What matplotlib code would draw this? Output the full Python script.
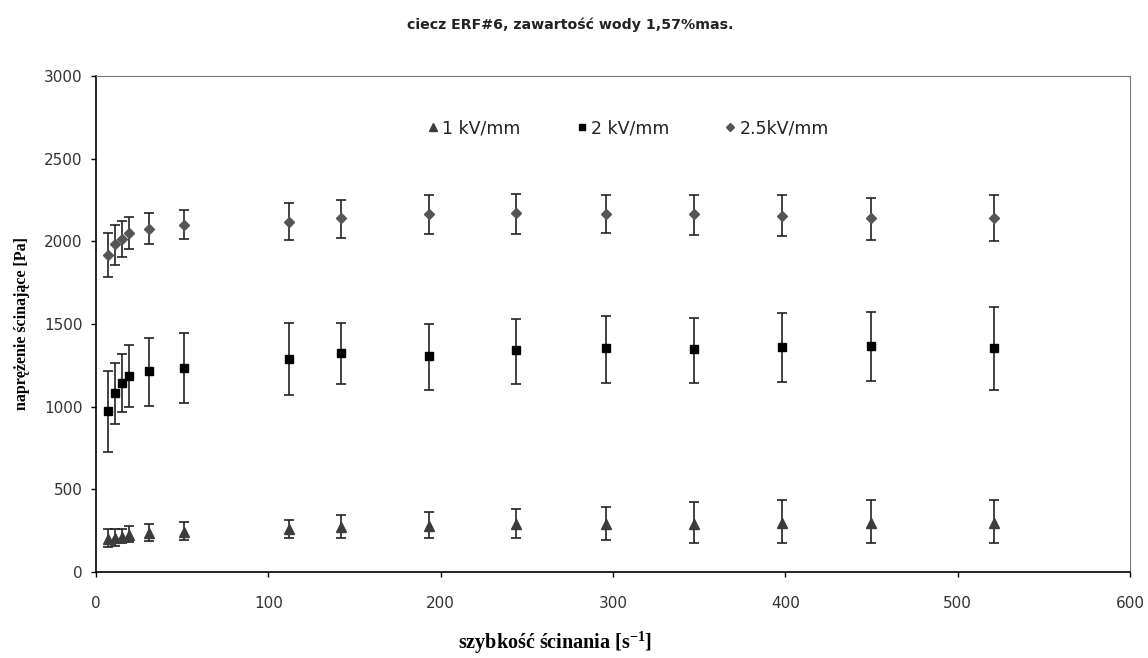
import matplotlib
matplotlib.use('Agg')
import numpy as np
from matplotlib import pyplot as plt
from matplotlib.lines import Line2D

# shear rate [1/s]
rate = [7, 11, 15, 19, 31, 51, 112, 142, 193, 244, 296, 347, 398, 450, 521]

# 1 kV/mm
stress_1 = [200, 205, 212, 224, 238, 242, 258, 274, 280, 290, 290, 290, 298, 298, 298]
top_1 = [262, 258, 262, 276, 290, 304, 314, 345, 365, 379, 393, 421, 435, 433, 433]
bot_1 = [153, 157, 173, 180, 187, 194, 208, 208, 208, 208, 194, 173, 173, 173, 173]

# 2 kV/mm
stress_2 = [974, 1085, 1145, 1185, 1216, 1236, 1290, 1325, 1304, 1341, 1353, 1347, 1359, 1369, 1353]
top_2 = [1218, 1262, 1316, 1373, 1413, 1448, 1508, 1508, 1502, 1528, 1550, 1538, 1564, 1573, 1601]
bot_2 = [726, 893, 970, 996, 1004, 1024, 1073, 1135, 1101, 1135, 1143, 1143, 1149, 1157, 1101]

# 2.5 kV/mm
stress_25 = [1917, 1984, 2016, 2050, 2073, 2101, 2119, 2141, 2164, 2170, 2165, 2164, 2153, 2141, 2141]
top_25 = [2052, 2101, 2125, 2147, 2170, 2191, 2230, 2250, 2280, 2286, 2280, 2280, 2280, 2264, 2280]
bot_25 = [1782, 1857, 1903, 1954, 1982, 2014, 2008, 2022, 2045, 2045, 2052, 2036, 2030, 2008, 2004]

labels = ['1 kV/mm', '2 kV/mm', '2.5kV/mm']

fig = plt.figure(figsize=(11.48, 6.58), dpi=100)
ax = fig.add_axes([0.0836, 0.1307, 0.9007, 0.7538])

series = [
    (stress_1, top_1, bot_1, '^', 7.5, '#3c3c3c'),
    (stress_2, top_2, bot_2, 's', 5.5, '#000000'),
    (stress_25, top_25, bot_25, 'D', 5.5, '#555555'),
]
handles = []
for (y, top, bot, mk, ms, col), lab in zip(series, labels):
    y = np.array(y, dtype=float)
    err = np.vstack([y - np.array(bot), np.array(top) - y])
    ax.errorbar(rate, y, yerr=err, fmt=mk, ms=ms, color=col, mec=col,
                ecolor='#222222', elinewidth=1.2, capsize=3.8, capthick=1.2)
    handles.append(Line2D([], [], ls='none', marker=mk, ms=ms * 0.8, color=col, label=lab))

ax.set_xlim(0, 600)
ax.set_ylim(0, 3000)
ax.set_xticks(range(0, 601, 100))
ax.set_yticks(range(0, 3001, 500))
ax.tick_params(direction='out', length=3.6, width=1, labelsize=11, colors='black')
ax.tick_params(axis='x', pad=13.5)
ax.tick_params(axis='y', pad=6)
for lbl in ax.get_xticklabels() + ax.get_yticklabels():
    lbl.set_family('DejaVu Sans')
    lbl.set_color('#333333')
ax.spines['left'].set_color('black')
ax.spines['bottom'].set_color('black')
ax.spines['top'].set_color('#777777')
ax.spines['right'].set_color('#777777')
ax.spines['left'].set_linewidth(1.2)
ax.spines['bottom'].set_linewidth(1.2)

ax.set_xlabel('szybkość ścinania [s$^{\\mathregular{-1}}$]', family='Liberation Serif',
              fontweight='bold', fontsize=14.5, labelpad=13)
ax.xaxis.label.set_x(0.444)
ax.set_ylabel('naprężenie ścinające [Pa]', family='Liberation Serif',
              fontweight='bold', fontsize=11.5, labelpad=10)

fig.text(0.497, 0.963, 'ciecz ERF#6, zawartość wody 1,57%mas.', ha='center', va='center',
         family='DejaVu Sans', fontweight='bold', fontsize=10.2, color='#222222')

leg = ax.legend(handles=handles, loc='center', bbox_to_anchor=(0.515, 0.895), ncol=3,
                frameon=False, handlelength=0.6, handletextpad=0.25, columnspacing=3.2,
                prop={'family': 'DejaVu Sans', 'size': 12.5})
for t in leg.get_texts():
    t.set_color('#222222')

fig.savefig('out.png', dpi=100)
